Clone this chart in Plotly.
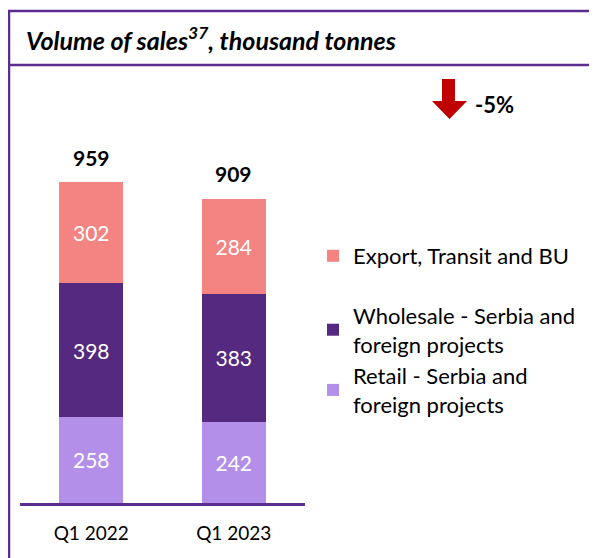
import plotly.graph_objects as go

categories = ["Q1 2022", "Q1 2023"]
retail = [258, 242]
wholesale = [398, 383]
export = [302, 284]
totals = [959, 909]
change_label = "-5%"

series_names = ["Retail - Serbia and<br>foreign projects",
                "Wholesale - Serbia and<br>foreign projects",
                "Export, Transit and BU"]

# page has an 8px body margin; figure sized to fit the window
OFF = 8
W, H = 597 - OFF, 558 - OFF
L, T, B = 12, 112, 55
PW = 285
R = W - L - PW
PH = H - T - B

def px(x):  # reference-page x -> paper
    return (x - OFF - L) / PW

def py(y):  # reference-page y -> paper
    return (H - B - (y - OFF)) / PH

FONT = "Lato"
FRAME = "#5B2D90"
colors = ["#B48FEA", "#55297F", "#F38482"]
ranks = [3, 2, 1]
groups = ["g2", "g2", "g1"]

fig = go.Figure()
for name, vals, col, grp, rk in zip(series_names, [retail, wholesale, export], colors, groups, ranks):
    fig.add_trace(go.Bar(
        x=categories, y=vals, name=name, marker=dict(color=col, line=dict(width=0)),
        text=[str(v) for v in vals], textposition="inside", insidetextanchor="middle",
        textfont=dict(color="white", size=21, family=FONT),
        legendgroup=grp, legendrank=rk, hoverinfo="skip",
    ))

shapes = [
    dict(type="line", xref="paper", yref="paper", x0=px(8), x1=px(597), y0=py(11), y1=py(11),
         line=dict(color=FRAME, width=2.5)),
    dict(type="line", xref="paper", yref="paper", x0=px(8), x1=px(597), y0=py(65), y1=py(65),
         line=dict(color=FRAME, width=2.5)),
    dict(type="line", xref="paper", yref="paper", x0=px(9), x1=px(9), y0=py(11), y1=py(565),
         line=dict(color=FRAME, width=2.5)),
]
# red down arrow
pts = [(442, 79), (455, 79), (455, 101), (467, 101), (449.5, 119), (432, 101), (442, 101)]
path = "M " + " L ".join(f"{px(x)},{py(y)}" for x, y in pts) + " Z"
shapes.append(dict(type="path", xref="paper", yref="paper", path=path,
                   fillcolor="#C00000", line=dict(width=0)))

annotations = [
    dict(text="<b><i>Volume of sales<sup>37</sup>, thousand tonnes</i></b>", xref="paper", yref="paper",
         x=px(24), y=py(39), xanchor="left", yanchor="middle", showarrow=False,
         font=dict(size=25, color="black", family=FONT)),
    dict(text=f"<b>{change_label}</b>", xref="paper", yref="paper",
         x=px(473), y=py(104), xanchor="left", yanchor="middle", showarrow=False,
         font=dict(size=22, color="black", family=FONT)),
]
for c, t in zip(categories, totals):
    annotations.append(dict(text=f"<b>{t}</b>", x=c, y=t, xref="x", yref="y",
                            xanchor="center", yanchor="middle", yshift=25, showarrow=False,
                            font=dict(size=21, color="black", family=FONT)))

fig.update_layout(
    width=W, height=H, margin=dict(l=L, r=R, t=T, b=B),
    barmode="stack", bargap=0.55,
    plot_bgcolor="white", paper_bgcolor="white",
    font=dict(family=FONT, color="black"),
    shapes=shapes, annotations=annotations,
    legend=dict(x=px(313), y=py(235), xanchor="left", yanchor="top",
                traceorder="grouped", tracegroupgap=28,
                font=dict(size=22, family=FONT, color="black"),
                itemwidth=30, bgcolor="rgba(0,0,0,0)"),
    xaxis=dict(showline=True, linecolor=FRAME, linewidth=2.5, showgrid=False, ticks="",
               tickfont=dict(size=19, family=FONT, color="black"), ticklabelstandoff=11,
               range=[-0.5, 1.5], fixedrange=True),
    yaxis=dict(visible=False, range=[0, PH / (321 / 959)], showgrid=False, fixedrange=True),
)

fig.write_html("out.html")
